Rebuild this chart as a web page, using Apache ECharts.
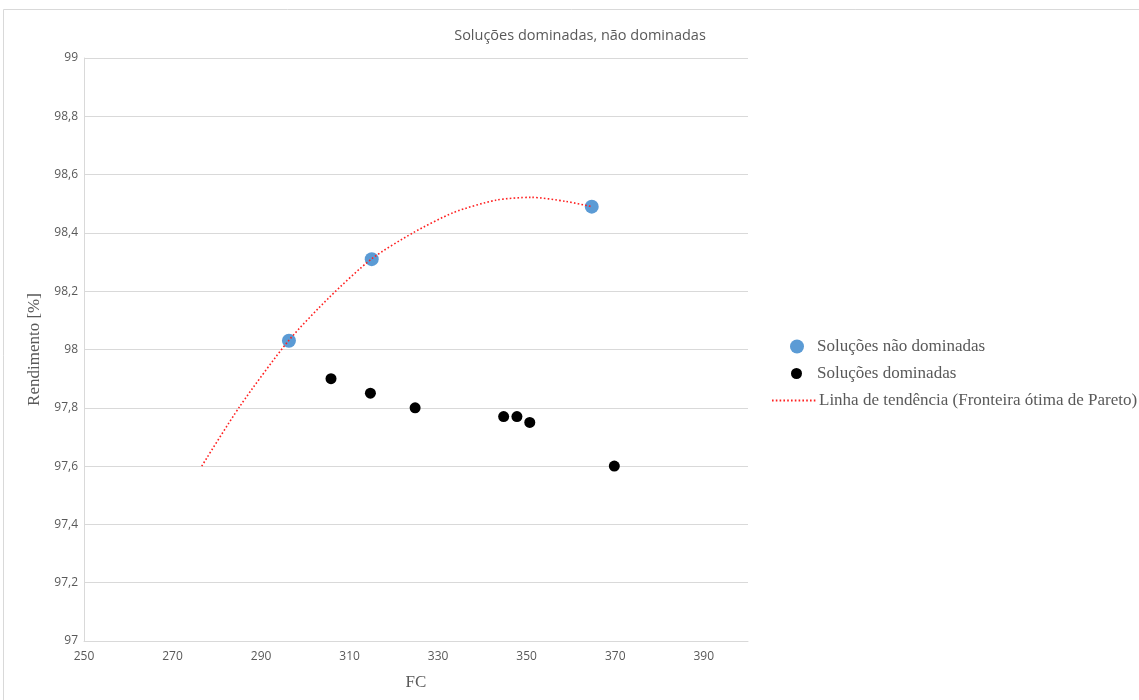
<!DOCTYPE html>
<html>
<head>
<meta charset="utf-8">
<script src="https://cdn.jsdelivr.net/npm/echarts@6/dist/echarts.min.js"></script>
<style>
html,body{margin:0;padding:0;background:#fff;}
#c{width:1139px;height:700px;}
</style>
</head>
<body>
<div id="c"></div>
<script>
const titleText = 'Soluções dominadas, não dominadas';
const xName = 'FC';
const yName = 'Rendimento [%]';
const seriesNames = ['Soluções não dominadas', 'Soluções dominadas', 'Linha de tendência (Fronteira ótima de Pareto)'];

const naoDominadasFC = [296.3, 315.0, 364.7];
const naoDominadasRend = [98.03, 98.31, 98.49];

const dominadasFC = [305.8, 314.7, 324.8, 344.8, 347.8, 350.7, 369.8];
const dominadasRend = [97.90, 97.85, 97.80, 97.77, 97.77, 97.75, 97.60];

const tendenciaFC = [276.6, 285.2, 296.2, 305.5, 314.9, 324.3, 333.5, 343.0, 351.0, 358.9, 364.7];
const tendenciaRend = [97.60, 97.805, 98.03, 98.18, 98.31, 98.40, 98.47, 98.512, 98.522, 98.508, 98.49];

const xMin = 250, xMax = 400, xStep = 20;
const yMin = 97, yMax = 99, yStep = 0.2;

const pairs = (xs, ys) => xs.map((x, i) => [x, ys[i]]);

const chart = echarts.init(document.getElementById('c'));
const serif = '"Liberation Serif", "Times New Roman", serif';
const legendText = (pad) => ({fontFamily: serif, fontSize: 17, color: '#595959', padding: [0, 0, 0, pad]});
chart.setOption({
  animation: false,
  backgroundColor: '#fff',
  title: {
    text: titleText,
    left: 575, top: 23, textAlign: 'center',
    textStyle: {fontFamily: '"Open Sans", sans-serif', fontSize: 14.5, fontWeight: 'normal', color: '#595959'}
  },
  graphic: [{
    type: 'rect', shape: {x: 3.5, y: 9.5, width: 1160, height: 720},
    style: {fill: 'none', stroke: '#d9d9d9', lineWidth: 1}, silent: true, z: -10
  }],
  grid: {left: 84, right: 391, top: 58, bottom: 59},
  legend: [
    {data: [seriesNames[0]], left: 790, top: 338, itemWidth: 14, itemHeight: 14, textStyle: legendText(8), padding: 0},
    {data: [seriesNames[1]], left: 791, top: 365, itemWidth: 11, itemHeight: 11, textStyle: legendText(10), padding: 0},
    {data: [{name: seriesNames[2], itemStyle: {opacity: 0}}], left: 771, top: 392, itemWidth: 44, itemHeight: 14,
     itemStyle: {opacity: 0}, textStyle: legendText(-2), padding: 0}
  ],
  xAxis: {
    type: 'value', min: xMin, max: xMax, interval: xStep,
    name: xName, nameLocation: 'middle', nameGap: 33,
    nameTextStyle: {fontFamily: serif, fontSize: 17, color: '#595959'},
    axisLine: {show: true, lineStyle: {color: '#d9d9d9', width: 1}},
    axisTick: {show: false},
    splitLine: {show: false},
    axisLabel: {
      margin: 10, color: '#595959', fontFamily: '"Open Sans", sans-serif', fontSize: 12,
      formatter: v => (v === xMax ? '' : String(v))
    }
  },
  yAxis: {
    type: 'value', min: yMin, max: yMax, interval: yStep,
    name: yName, nameLocation: 'middle', nameGap: 34, nameRotate: 90,
    nameTextStyle: {fontFamily: serif, fontSize: 17, color: '#595959'},
    axisLine: {show: true, lineStyle: {color: '#d9d9d9', width: 1}},
    axisTick: {show: false},
    splitLine: {show: true, lineStyle: {color: '#d9d9d9', width: 1}},
    axisLabel: {
      margin: 6, color: '#595959', fontFamily: '"Open Sans", sans-serif', fontSize: 12,
      formatter: v => String(Math.round(v * 10) / 10).replace('.', ',')
    }
  },
  series: [
    {
      name: seriesNames[0], type: 'scatter', symbol: 'circle', symbolSize: 14,
      itemStyle: {color: '#5b9bd5', opacity: 1}, data: pairs(naoDominadasFC, naoDominadasRend), z: 2
    },
    {
      name: seriesNames[1], type: 'scatter', symbol: 'circle', symbolSize: 11,
      itemStyle: {color: '#000000', opacity: 1}, data: pairs(dominadasFC, dominadasRend), z: 2
    },
    {
      name: seriesNames[2], type: 'line', smooth: 0.25, symbol: 'none', showSymbol: false,
      lineStyle: {color: '#ff2020', width: 1.6, type: [1.6, 2.2]},
      itemStyle: {color: '#ff2020'},
      data: pairs(tendenciaFC, tendenciaRend), z: 3
    }
  ]
});
</script>
</body>
</html>
